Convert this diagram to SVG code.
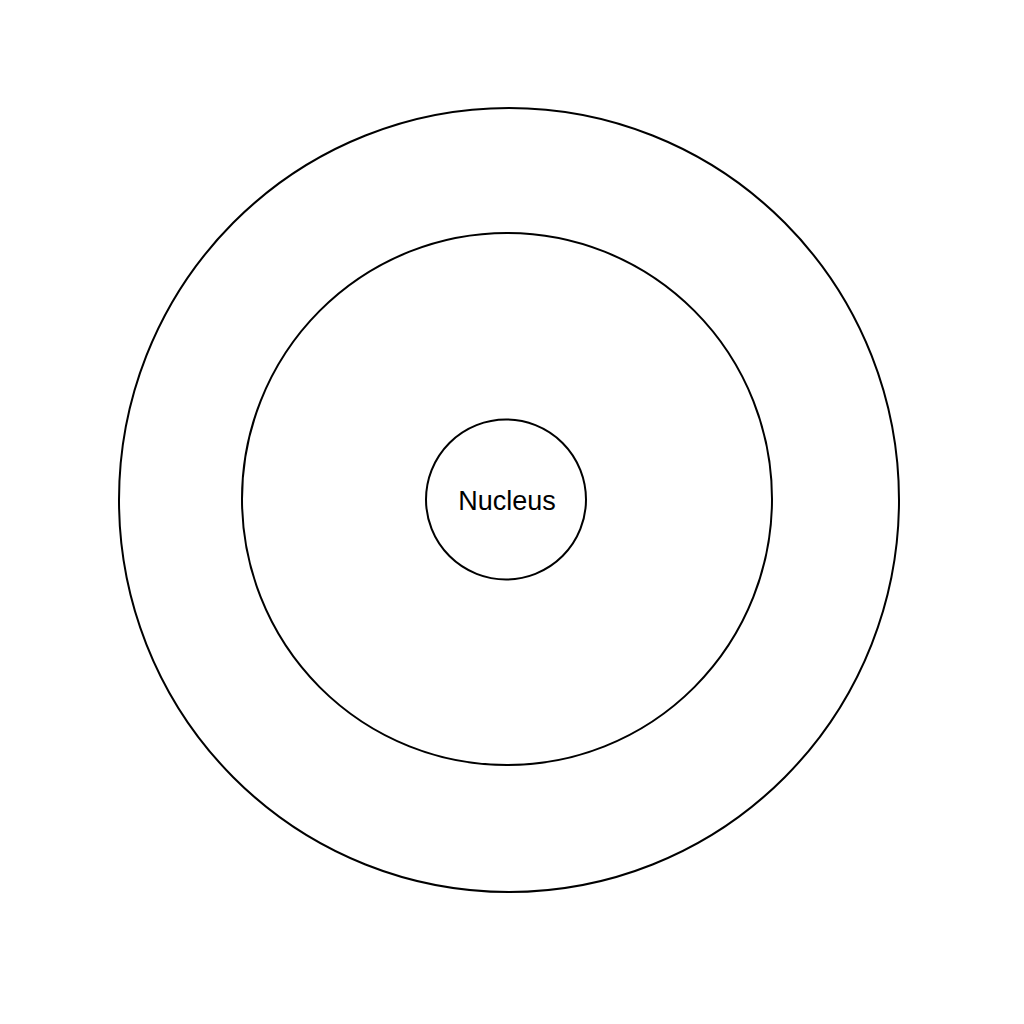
<svg xmlns="http://www.w3.org/2000/svg" width="1024" height="1024" viewBox="0 0 1024 1024">
<style>
.ring{fill:none;stroke:#000;stroke-width:2}
.lbl{font-family:"Liberation Sans",Arial,sans-serif;font-size:27px;fill:#000;text-anchor:middle}
</style>
<rect width="1024" height="1024" fill="#fff"/>
<g id="outer-shell"><ellipse class="ring" cx="509" cy="500" rx="390" ry="392"/></g>
<g id="inner-shell"><ellipse class="ring" cx="507" cy="499" rx="265" ry="266"/></g>
<g id="nucleus"><circle class="ring" cx="506" cy="499.5" r="80"/><text class="lbl" x="507" y="510">Nucleus</text></g>
<g id="connectors"></g>
</svg>
